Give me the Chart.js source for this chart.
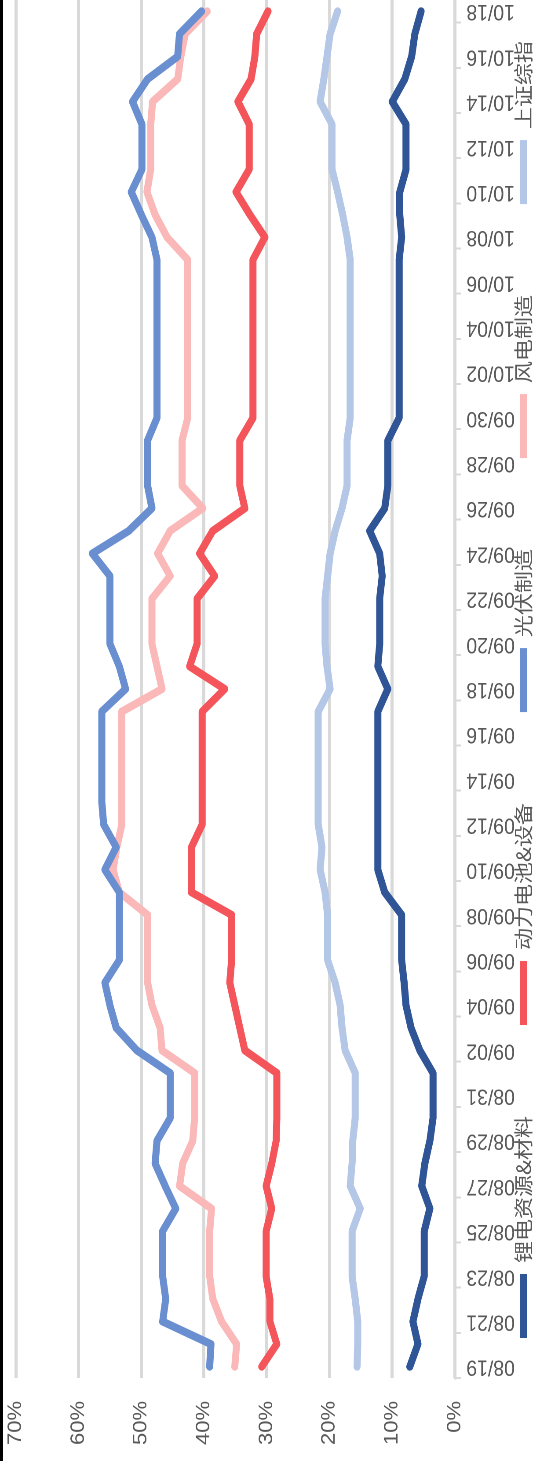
<!DOCTYPE html>
<html>
<head>
<meta charset="utf-8">
<script src="https://cdn.jsdelivr.net/npm/chart.js@4.4.1/dist/chart.umd.min.js"></script>
<style>
  html, body { margin: 0; padding: 0; background: #fff; width: 533px; height: 1461px; overflow: hidden; }
  /* chart is drawn lying down, then turned a quarter left and squeezed to fit */
  #wrap { position: absolute; left: 0; top: 0; width: 1461px; height: 606px;
          transform-origin: 0 0; transform: translate(0px, 1461px) rotate(-90deg) scale(1, 0.8795); }
  #edge { position: absolute; left: 0; top: 0; width: 3px; height: 1461px; background: #000; }
</style>
</head>
<body>
<div id="wrap"><canvas id="chart1" width="1461" height="606"></canvas></div>
<div id="edge"></div>
<script>
// one value per calendar day, 08/19 .. 10/18 (weekends & holidays keep last value)
// rows = weeks starting on monday
const lithium = [
  7.2, 5.9, 6.7, 5.9, 4.9, 4.9, 4.9,
  4.0, 5.3, 4.8, 4.0, 3.5, 3.5, 3.5,
  5.6, 7.0, 7.8, 8.1, 8.5, 8.5, 8.5,
  11.2, 12.3, 12.3, 12.3, 12.3, 12.3, 12.3,
  12.3, 12.3, 10.7, 12.3, 12.0, 12.0, 12.0,
  11.6, 12.0, 13.6, 11.2, 10.7, 10.7, 10.7,
  8.9, 8.9, 8.9, 8.9, 8.9, 8.9, 8.9,
  8.9, 8.5, 8.8, 8.8, 7.8, 7.8, 7.8,
  10.0, 8.0, 6.9, 6.4, 5.4
];
const battery = [
  30.8, 28.4, 29.5, 29.5, 30.1, 30.1, 30.1,
  29.2, 30.1, 29.2, 28.5, 28.4, 28.4, 28.4,
  33.5, 34.3, 35.1, 35.9, 35.6, 35.6, 35.6,
  42.0, 42.0, 42.0, 40.3, 40.3, 40.3, 40.3,
  40.3, 40.3, 36.7, 42.3, 41.1, 41.1, 41.1,
  38.3, 40.7, 38.6, 33.5, 34.3, 34.3, 34.3,
  32.2, 32.2, 32.2, 32.2, 32.2, 32.2, 32.2,
  32.2, 30.3, 32.7, 34.9, 32.8, 32.8, 32.8,
  34.6, 32.5, 31.9, 31.6, 29.8
];
const solar = [
  39.1, 38.9, 46.6, 46.1, 46.6, 46.6, 46.6,
  44.5, 46.2, 47.8, 47.5, 45.4, 45.4, 45.4,
  50.7, 54.0, 55.0, 55.8, 53.5, 53.5, 53.5,
  53.5, 55.8, 54.0, 56.0, 56.3, 56.3, 56.3,
  56.3, 56.3, 52.5, 53.5, 55.0, 55.0, 55.0,
  55.0, 57.8, 52.0, 48.3, 49.0, 49.0, 49.0,
  47.5, 47.5, 47.5, 47.5, 47.5, 47.5, 47.5,
  47.5, 48.3, 50.0, 51.6, 49.9, 49.9, 49.9,
  51.4, 49.0, 44.2, 43.9, 40.4
];
const wind = [
  35.1, 34.8, 37.2, 38.6, 39.1, 39.1, 39.1,
  38.8, 43.9, 43.4, 41.8, 41.5, 41.5, 41.5,
  46.7, 47.0, 48.3, 49.0, 49.0, 49.0, 49.0,
  53.5, 54.5, 53.9, 53.1, 53.1, 53.1, 53.1,
  53.1, 53.1, 46.7, 47.5, 48.3, 48.3, 48.3,
  45.4, 47.4, 45.4, 40.2, 43.5, 43.5, 43.5,
  42.6, 42.6, 42.6, 42.6, 42.6, 42.6, 42.6,
  42.6, 45.9, 47.8, 49.1, 48.5, 48.5, 48.5,
  48.2, 44.2, 43.7, 43.0, 39.5
];
const sse = [
  15.6, 15.5, 15.5, 15.9, 16.4, 16.4, 16.4,
  15.1, 16.7, 16.4, 16.3, 15.9, 15.9, 15.9,
  17.5, 18.0, 18.3, 19.1, 20.3, 20.3, 20.3,
  20.7, 21.5, 21.2, 21.8, 21.8, 21.8, 21.8,
  21.8, 21.8, 19.9, 20.4, 20.7, 20.7, 20.7,
  20.3, 19.9, 19.1, 18.0, 17.2, 17.2, 17.2,
  16.7, 16.7, 16.7, 16.7, 16.7, 16.7, 16.7,
  16.7, 17.2, 17.9, 18.7, 19.6, 19.6, 19.6,
  21.5, 20.9, 20.4, 19.9, 18.7
];
const seriesNames = ["锂电资源&材料", "动力电池&设备", "光伏制造", "风电制造", "上证综指"];
const seriesColors = ["#2f5597", "#f4555a", "#6a8fd0", "#fbb8b8", "#b4c7e7"];

// calendar day labels
const dayLabels = [];
for (let d = new Date(2024, 7, 19); d <= new Date(2024, 9, 18); d.setDate(d.getDate() + 1)) {
  const mm = String(d.getMonth() + 1).padStart(2, "0");
  const dd = String(d.getDate()).padStart(2, "0");
  dayLabels.push(mm + "/" + dd);
}

const gray = "#595959";
const lightGray = "#d9d9d9";
const LEG_PAD = 91;

// legend sits close under the date labels, items spread wide
const legendPlacer = {
  id: "legendPlacer",
  afterLayout(chart) {
    const lg = chart.legend;
    lg.top = 595 - LEG_PAD - 11;
    lg.left = 123 - LEG_PAD;
    lg.right = 2200;
  },
};

const allSeries = [lithium, battery, solar, wind, sse];
const datasets = allSeries.map((vals, i) => ({
  label: seriesNames[i],
  data: vals,
  borderColor: seriesColors[i],
  backgroundColor: seriesColors[i],
  borderWidth: 8,
  borderCapStyle: "round",
  borderJoinStyle: "round",
  pointRadius: 0,
  pointHoverRadius: 0,
  tension: 0,
  fill: false,
  clip: false,
}));

const ctx = document.getElementById("chart1").getContext("2d");
const myChart = new Chart(ctx, {
  type: "line",
  data: { labels: dayLabels, datasets: datasets },
  plugins: [legendPlacer],
  options: {
    responsive: false,
    animation: false,
    devicePixelRatio: 2,
    events: [],
    layout: { padding: { top: 18, left: 0, right: 0, bottom: 0 } },
    plugins: {
      tooltip: { enabled: false },
      legend: {
        position: "bottom",
        align: "start",
        maxHeight: 20,
        labels: {
          usePointStyle: true,
          pointStyle: "line",
          pointStyleWidth: 64,
          padding: LEG_PAD,
          color: gray,
          font: { family: "'Noto Sans CJK SC'", size: 22 },
        },
      },
    },
    scales: {
      x: {
        offset: true,
        grid: {
          offset: true,
          drawOnChartArea: false,
          drawTicks: true,
          tickLength: 7,
          lineWidth: 2,
          color: (c) => (c.index % 2 === 0 ? lightGray : "rgba(0,0,0,0)"),
        },
        border: { display: true, color: lightGray, width: 3 },
        ticks: {
          autoSkip: false,
          minRotation: 90,
          maxRotation: 90,
          padding: 6,
          color: gray,
          font: { family: "'Liberation Sans'", size: 22 },
          callback: function (v, i) {
            return i % 2 === 0 ? this.getLabelForValue(v) : "";
          },
        },
        afterFit(s) {
          s.height = 68.7;
          s.paddingLeft = 0;
          s.paddingRight = 0;
          s.paddingTop = 0;
          s.paddingBottom = 0;
        },
      },
      y: {
        min: 0,
        max: 70,
        grid: { color: lightGray, lineWidth: 3.5, drawTicks: false },
        border: { display: false },
        ticks: {
          stepSize: 10,
          padding: 23,
          color: gray,
          font: { family: "'Liberation Sans'", size: 22 },
          callback: (v) => v + "%",
        },
        afterFit(s) {
          s.width = 83;
          s.paddingTop = 0;
          s.paddingBottom = 0;
        },
      },
    },
  },
});
</script>
</body>
</html>
